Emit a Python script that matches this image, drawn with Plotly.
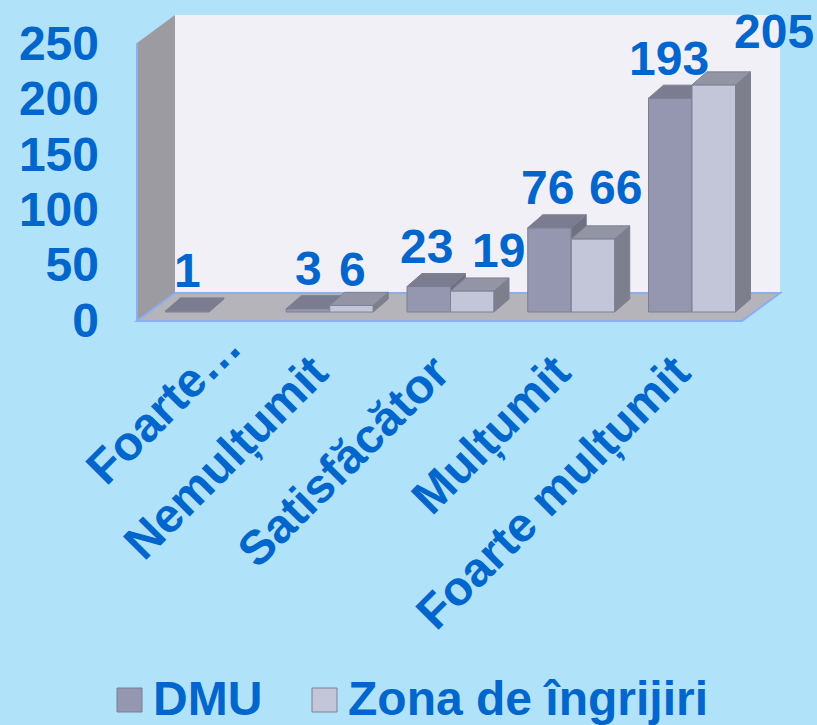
import plotly.graph_objects as go

# ---- data -------------------------------------------------------------
categories = ["Foarte…", "Nemulțumit", "Satisfăcător", "Mulțumit", "Foarte mulțumit"]
series_names = ["DMU", "Zona de îngrijiri"]
dmu_values = [1, 3, 23, 76, 193]
zona_values = [None, 6, 19, 66, 205]
y_ticks = [0, 50, 100, 150, 200, 250]

# ---- page geometry (pixels) --------------------------------------------
FIG_W, FIG_H = 817, 725
M_L, M_R, M_T, M_B = 130, 0, 0, 390
PLOT_W = FIG_W - M_L - M_R
PLOT_H = FIG_H - M_T - M_B
CAT_STEP_PX = 120.75          # distance between category centres
CAT0_PX = 209                 # x of the first category centre
UNIT_PX = 1.108               # pixels per value unit
ZERO_PX = 320                 # y of value 0 on the front plane


def dx(px):
    return px / CAT_STEP_PX


def dy(px):
    return px / UNIT_PX


def paper_x(px):
    return (px - M_L) / PLOT_W


def paper_y(py):
    return 1 - (py - M_T) / PLOT_H


x_range = [dx(M_L - CAT0_PX), dx(FIG_W - CAT0_PX)]
y_range = [-dy(M_T + PLOT_H - ZERO_PX), dy(ZERO_PX - M_T)]

# ---- styling -----------------------------------------------------------
BG = "#B0E2F9"
TEXT_BLUE = "#0066CC"
FONT = "Liberation Sans, Arial, sans-serif"
FONT_SIZE = 48
BAR_W = dx(43.5)
BAR_LIFT = dy(8)
DEPTH_X, DEPTH_Y = dx(15), dy(13)
WALL_DX, WALL_DY = dx(38), dy(28)
FRAME_L, FRAME_R, FRAME_B = dx(137 - CAT0_PX), dx(742 - CAT0_PX), -dy(1)
FRAME_T = y_ticks[-1]

STYLE = {
    "DMU": dict(front="#9597B1", top="#7B7C8F", side="#6F7081", edge="#7C7E92"),
    "Zona": dict(front="#C3C5D9", top="#9395A5", side="#7E7F8D", edge="#7E8094"),
}
# label nudges (xshift, yshift) in px; second series is pushed aside
LABEL_NUDGE_DMU = [(0, 0), (0, 0), (-2, 0), (-2, 0), (-1, 0)]
LABEL_NUDGE_ZONA = [(0, 0), (1, -4), (26, 0), (22, 11), (60, 13)]
CAT_LABEL_NUDGE = [(33, 26), (0, 0), (0, 0), (0, 0), (0, 0)]
CAT_LABEL_TOP_PX = 342
CAT_LABEL_XSHIFT = 12

fig = go.Figure()


def path(points):
    return "M " + " L ".join(f"{x},{y}" for x, y in points) + " Z"


# ---- chart walls ---------------------------------------------------------
L, R, B, T = FRAME_L, FRAME_R, FRAME_B, FRAME_T
back_wall = [(L + WALL_DX, B + WALL_DY), (R + WALL_DX, B + WALL_DY),
             (R + WALL_DX, T + WALL_DY), (L + WALL_DX, T + WALL_DY)]
side_wall = [(L, B), (L, T), (L + WALL_DX, T + WALL_DY), (L + WALL_DX, B + WALL_DY)]
floor = [(L, B), (R, B), (R + WALL_DX, B + WALL_DY), (L + WALL_DX, B + WALL_DY)]
shapes = [
    dict(type="path", path=path(back_wall), xref="x", yref="y", layer="below",
         fillcolor="#F1F0F7", line=dict(width=0)),
    dict(type="path", path=path(side_wall), xref="x", yref="y", layer="below",
         fillcolor="#9C9BA1", line=dict(width=0)),
    dict(type="path", path=path(floor), xref="x", yref="y", layer="below",
         fillcolor="#B5B4BA", line=dict(color="#8CAEEE", width=2)),
    dict(type="line", x0=L, y0=B, x1=L, y1=T, xref="x", yref="y", layer="below",
         line=dict(color="#8CAEEE", width=2)),
]


def add_series(values, left_of_centre, style, yaxis):
    xs = list(range(len(values)))
    fig.add_trace(go.Bar(
        x=xs, y=values, base=BAR_LIFT, width=BAR_W,
        offset=-BAR_W if left_of_centre else 0,
        marker=dict(color=style["front"], line=dict(color=style["edge"], width=1)),
        yaxis=yaxis, showlegend=False, hoverinfo="skip",
    ))
    top_x, top_y, side_x, side_y = [], [], [], []
    for i, v in enumerate(values):
        if v is None:
            continue
        x0 = i - BAR_W if left_of_centre else i
        x1 = x0 + BAR_W
        y0, y1 = BAR_LIFT, BAR_LIFT + v
        top_x += [x0, x1, x1 + DEPTH_X, x0 + DEPTH_X, x0, None]
        top_y += [y1, y1, y1 + DEPTH_Y, y1 + DEPTH_Y, y1, None]
        side_x += [x1, x1 + DEPTH_X, x1 + DEPTH_X, x1, x1, None]
        side_y += [y0, y0 + DEPTH_Y, y1 + DEPTH_Y, y1, y0, None]
    for fx, fy, col in ((side_x, side_y, style["side"]), (top_x, top_y, style["top"])):
        fig.add_trace(go.Scatter(
            x=fx, y=fy, mode="lines", fill="toself", fillcolor=col,
            line=dict(color=style["edge"], width=1), yaxis=yaxis,
            showlegend=False, hoverinfo="skip",
        ))


add_series(dmu_values, True, STYLE["DMU"], "y")
add_series(zona_values, False, STYLE["Zona"], "y2")

# ---- value labels ------------------------------------------------------
annotations = []
label_font = dict(family=FONT, size=FONT_SIZE, color=TEXT_BLUE, weight="bold")
for values, sign, nudges in ((dmu_values, -1, LABEL_NUDGE_DMU),
                             (zona_values, 1, LABEL_NUDGE_ZONA)):
    for i, v in enumerate(values):
        if v is None:
            continue
        annotations.append(dict(
            x=i + sign * BAR_W / 2, y=BAR_LIFT + v, xref="x", yref="y",
            text=str(v), showarrow=False, font=label_font,
            xanchor="center", yanchor="middle",
            xshift=nudges[i][0], yshift=40 + nudges[i][1],
        ))

# ---- category labels ---------------------------------------------------
for i, cat in enumerate(categories):
    annotations.append(dict(
        x=i, y=paper_y(CAT_LABEL_TOP_PX), xref="x", yref="paper", text=cat,
        showarrow=False, textangle=-45, font=label_font,
        xanchor="right", yanchor="top",
        xshift=CAT_LABEL_XSHIFT + CAT_LABEL_NUDGE[i][0],
        yshift=CAT_LABEL_NUDGE[i][1],
    ))

# ---- legend ------------------------------------------------------------
legend_items = [(series_names[0], STYLE["DMU"], 117), (series_names[1], STYLE["Zona"], 312)]
for name, style, left_px in legend_items:
    shapes.append(dict(
        type="rect", xref="paper", yref="paper",
        x0=paper_x(left_px), x1=paper_x(left_px + 25),
        y0=paper_y(712), y1=paper_y(688),
        fillcolor=style["front"], line=dict(color=style["edge"], width=1),
    ))
    annotations.append(dict(
        x=paper_x(left_px + 34), y=paper_y(698), xref="paper", yref="paper",
        text=name, showarrow=False, font=label_font,
        xanchor="left", yanchor="middle",
    ))

fig.update_layout(
    width=FIG_W, height=FIG_H,
    margin=dict(l=M_L, r=M_R, t=M_T, b=M_B, pad=0),
    paper_bgcolor=BG, plot_bgcolor="rgba(0,0,0,0)",
    barmode="overlay", showlegend=False,
    xaxis=dict(range=x_range, visible=False, fixedrange=True),
    yaxis=dict(range=y_range, tickvals=y_ticks, showgrid=False, zeroline=False,
               showline=False, ticks="", ticklabelstandoff=30,
               tickfont=label_font, fixedrange=True),
    yaxis2=dict(range=y_range, overlaying="y", visible=False, fixedrange=True),
    shapes=shapes, annotations=annotations,
)

fig.write_html("out.html")
